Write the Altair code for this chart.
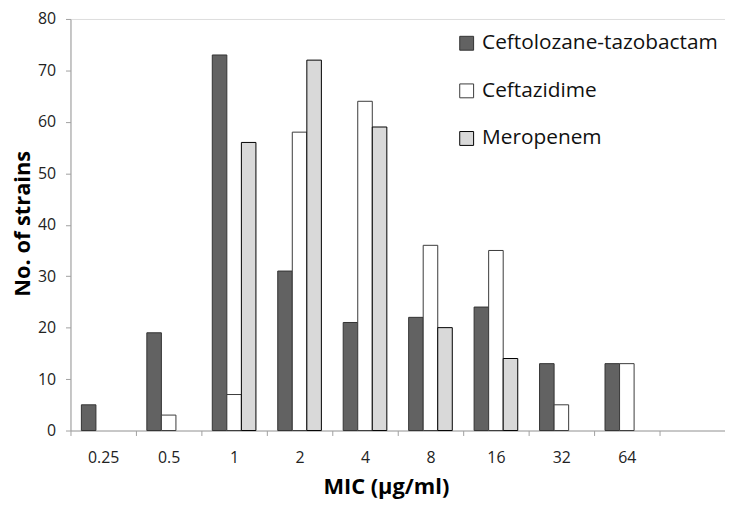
import altair as alt
import pandas as pd

mic = ["0.25", "0.5", "1", "2", "4", "8", "16", "32", "64"]
domain_x = mic + [" "]
series = ["Ceftolozane-tazobactam", "Ceftazidime", "Meropenem"]
ceftolozane = [5, 19, 73, 31, 21, 22, 24, 13, 13]
ceftazidime = [0, 3, 7, 58, 64, 36, 35, 5, 13]
meropenem = [0, 0, 56, 72, 59, 20, 14, 0, 0]

rows = []
for name, vals in zip(series, [ceftolozane, ceftazidime, meropenem]):
    for m, v in zip(mic, vals):
        if v > 0:
            rows.append({"MIC": m, "Drug": name, "Count": v})
df = pd.DataFrame(rows)

FONT = "Open Sans"

fill_scale = alt.Scale(domain=series, range=["#626262", "#ffffff", "#d9d9d9"])
stroke_scale = alt.Scale(domain=series, range=["#333333", "#3a3a3a", "#000000"])
sw_scale = alt.Scale(domain=series, range=[1, 1, 2])

legend = alt.Legend(
    title=None, orient="none", legendX=389, legendY=14,
    symbolType="square", symbolSize=196, labelFontSize=21,
    labelFont=FONT, labelColor="#111111", rowPadding=26, padding=0,
    labelOffset=5, labelLimit=400,
)

chart = alt.Chart(df).mark_bar().encode(
    x=alt.X("MIC:N", sort=domain_x,
            scale=alt.Scale(domain=domain_x, paddingInner=0, paddingOuter=0),
            axis=alt.Axis(title="MIC (µg/ml)", labelAngle=0, tickBand="extent",
                          domainColor="#a0a0a0", tickColor="#a0a0a0", tickSize=5,
                          labelPadding=14, labelFontSize=16, labelFont=FONT,
                          labelColor="#222222", titleFont=FONT, titleFontSize=22,
                          titleFontWeight="bold", titleColor="#000000",
                          titleX=318, titleY=56, titleBaseline="middle",
                          titleAlign="center")),
    xOffset=alt.XOffset("Drug:N", sort=series,
                        scale=alt.Scale(domain=series, paddingInner=0, paddingOuter=0.75)),
    y=alt.Y("Count:Q", scale=alt.Scale(domain=[0, 80]),
            axis=alt.Axis(title="No. of strains", values=list(range(0, 81, 10)),
                          grid=False, domainColor="#a0a0a0", tickColor="#a0a0a0",
                          tickSize=5, labelPadding=10, labelFontSize=16,
                          labelFont=FONT, labelColor="#222222", titleFont=FONT,
                          titleFontSize=22, titleFontWeight="bold",
                          titleColor="#000000", titleX=-48, titleY=206,
                          titleBaseline="middle", titleAlign="center",
                          titleAngle=270)),
    fill=alt.Fill("Drug:N", sort=series, scale=fill_scale, legend=legend),
    stroke=alt.Stroke("Drug:N", sort=series, scale=stroke_scale, legend=legend),
    strokeWidth=alt.StrokeWidth("Drug:N", sort=series, scale=sw_scale, legend=legend),
).properties(
    width=660, height=415,
    autosize=alt.AutoSizeParams(type="none"),
    padding={"left": 63, "top": 9, "right": 0, "bottom": 69},
).configure_view(stroke=None).configure(background="#ffffff")

chart.save("out.html", embed_options={"renderer": "svg", "actions": False})
